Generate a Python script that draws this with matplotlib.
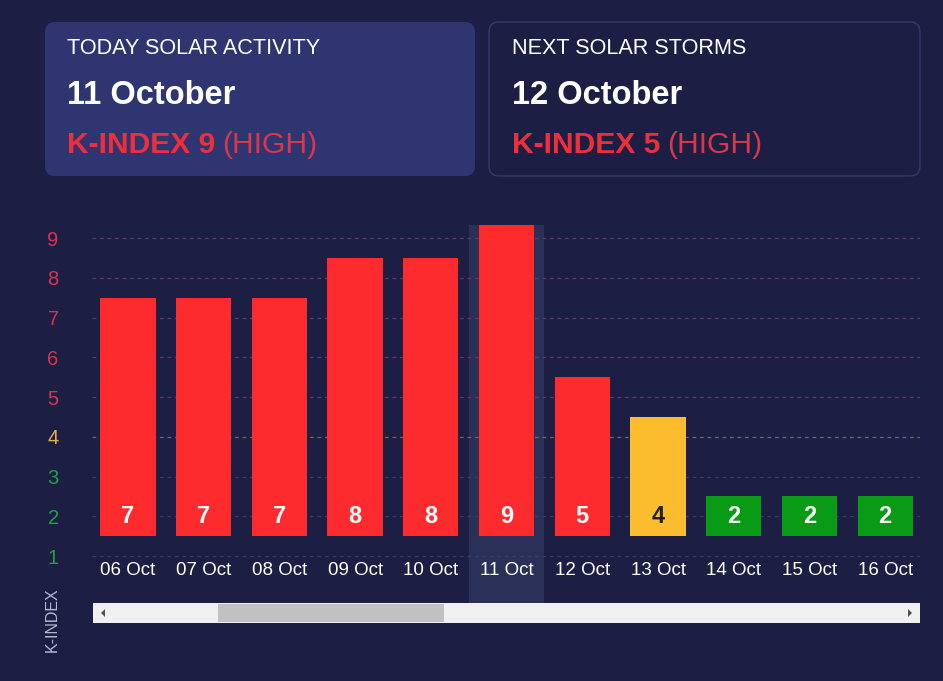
import matplotlib
matplotlib.use("Agg")
import matplotlib.pyplot as plt
from matplotlib.patches import FancyBboxPatch, Rectangle, Polygon

plt.rcParams['font.family'] = ['Liberation Sans', 'DejaVu Sans']

# ---- data ----
dates = ["06 Oct", "07 Oct", "08 Oct", "09 Oct", "10 Oct", "11 Oct",
         "12 Oct", "13 Oct", "14 Oct", "15 Oct", "16 Oct"]
kindex = [7, 7, 7, 8, 8, 9, 5, 4, 2, 2, 2]
yticks = [1, 2, 3, 4, 5, 6, 7, 8, 9]
highlight_index = 5
today_title = "TODAY SOLAR ACTIVITY"
today_date = "11 October"
today_k = 9
next_title = "NEXT SOLAR STORMS"
next_date = "12 October"
next_k = 5
level_text = "(HIGH)"

BG = "#1c1f43"
CARD = "#2f3571"
RED = "#fd2b2d"
YEL = "#fbbd2d"
GRN = "#0a9b16"
TXT_RED = "#ee2f3b"


def bar_color(k):
    if k >= 5:
        return RED
    if k == 4:
        return YEL
    return GRN


def tick_color(k):
    if k >= 5:
        return "#dc3150"
    if k == 4:
        return "#e6b04a"
    return "#21a043"


def grid_color(k):
    if k >= 5:
        return "#643863"
    if k == 4:
        return "#74684c"
    return "#383e66"


W, H = 943, 681
fig = plt.figure(figsize=(W / 100, H / 100), dpi=100)
fig.patch.set_facecolor(BG)

# background/overlay axes in pixel coords
bg = fig.add_axes([0, 0, 1, 1])
bg.set_xlim(0, W)
bg.set_ylim(H, 0)
bg.axis("off")
bg.set_zorder(0)

# cards
bg.add_patch(FancyBboxPatch((45 + 10, 22 + 10), 430 - 20, 154 - 20,
                            boxstyle="round,pad=10", fc=CARD, ec="none"))
bg.add_patch(FancyBboxPatch((489 + 10, 22 + 10), 431 - 20, 154 - 20,
                            boxstyle="round,pad=10", fc=BG, ec="#343a6c", lw=1.0))

fig.canvas.draw()
renderer = fig.canvas.get_renderer()


def card_text(x0, title, date, k):
    bg.text(x0, 49, title, color="white", fontsize=15.6, va="center", ha="left")
    bg.text(x0, 96, date, color="white", fontsize=23.5, fontweight="bold",
            va="center", ha="left")
    t = bg.text(x0, 145, f"K-INDEX {k}", color=TXT_RED, fontsize=21.6,
                fontweight="bold", va="center", ha="left")
    bb = t.get_window_extent(renderer=renderer)
    x_end = bb.x1  # pixel coords equal data coords in x
    bg.text(x_end + 7, 145, level_text, color="#d9384c", fontsize=21.6,
            va="center", ha="left")


card_text(67, today_title, today_date, today_k)
card_text(512, next_title, next_date, next_k)

# scrollbar
bg.add_patch(Rectangle((93, 603), 827, 20, fc="#f0f0f0", ec="none"))
bg.add_patch(Rectangle((218, 604), 226, 18, fc="#c1c1c1", ec="none"))
bg.add_patch(Polygon([[105, 609], [105, 617], [101, 613]], closed=True, fc="#505050", ec="none"))
bg.add_patch(Polygon([[908, 609], [908, 617], [912, 613]], closed=True, fc="#505050", ec="none"))

# y axis title
bg.text(52, 620, "K-INDEX", rotation=90, color="#b4bad4", fontsize=11.5,
        ha="center", va="center")

# ---- chart ----
ax = fig.add_axes([92 / W, 1 - 603 / H, (920 - 92) / W, (603 - 225) / H])
ax.set_zorder(1)
ax.patch.set_alpha(0)
ax.set_xlim(-0.475, 10.46)
ax.set_ylim(-0.18, 9.33)
for s in ax.spines.values():
    s.set_visible(False)

ax.axvspan(highlight_index - 0.5, highlight_index + 0.5, color="#2b3058", zorder=0, lw=0)

for k in yticks:
    ax.axhline(k, color=grid_color(k), lw=0.9, ls=(0, (3, 3)), zorder=1)

x = list(range(len(dates)))
heights = [k - 1 for k in kindex]
ax.bar(x, heights, bottom=1.5, width=0.73,
       color=[bar_color(k) for k in kindex], zorder=2)

for i, k in enumerate(kindex):
    ax.text(i, 2.0, str(k), color=("#222222" if k == 4 else "white"),
            fontsize=17, fontweight="bold", ha="center", va="center", zorder=3)
    ax.text(i, 0.65, dates[i], color="white", fontsize=13.5,
            ha="center", va="center", zorder=3)

ax.set_xticks([])
ax.set_yticks(yticks)
ax.set_yticklabels([str(k) for k in yticks])
ax.tick_params(axis="y", length=0, pad=24, labelsize=14.5)
for lab, k in zip(ax.get_yticklabels(), yticks):
    lab.set_color(tick_color(k))

fig.savefig("out.png", dpi=100, facecolor=BG)
